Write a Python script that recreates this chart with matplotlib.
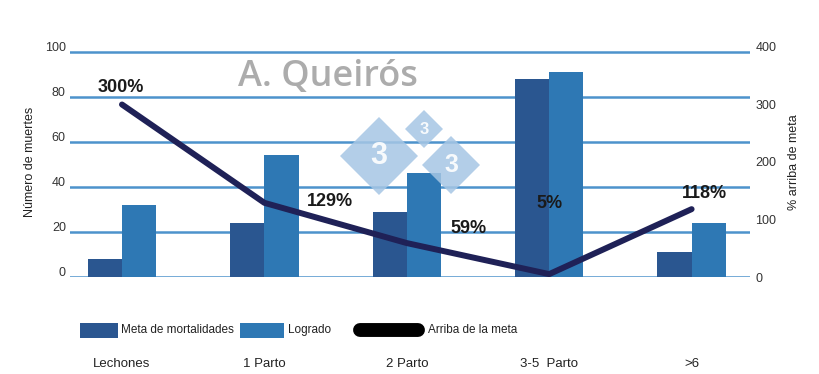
import matplotlib
matplotlib.use("Agg")
import matplotlib.pyplot as plt
import matplotlib.transforms as mtransforms
from matplotlib.patches import Polygon, Rectangle
from matplotlib.lines import Line2D
from matplotlib import font_manager

categories = ["Lechones", "1 Parto", "2 Parto", "3-5  Parto", ">6"]
meta = [8, 24, 29, 88, 11]
logrado = [32, 54, 46, 91, 24]
arriba = [300, 129, 59, 5, 118]
arriba_labels = ["300%", "129%", "59%", "5%", "118%"]
left_ticks = [0, 20, 40, 60, 80, 100]
right_ticks = [0, 100, 200, 300, 400]
legend_labels = ["Meta de mortalidades", "Logrado", "Arriba de la meta"]

names = {f.name for f in font_manager.fontManager.ttflist}
narrow = "Liberation Sans Narrow" if "Liberation Sans Narrow" in names else "Liberation Sans"
plt.rcParams["font.family"] = ["Liberation Sans", "DejaVu Sans"]

W, H = 820, 374
fig = plt.figure(figsize=(W / 100, H / 100), dpi=100)
ax = fig.add_axes([70 / W, 1 - 277 / H, 680 / W, 230 / H])
ax2 = ax.twinx()

dark = "#2a5690"
light = "#2e78b4"
navy = "#1f2157"
grid_c = "#4d93cc"

x = list(range(len(categories)))
bw = 0.24
ax.bar([i - bw / 2 for i in x], meta, width=bw, color=dark, zorder=3)
ax.bar([i + bw / 2 for i in x], logrado, width=bw, color=light, zorder=3)
ax.set_ylim(0, 102.2)
ax.set_xlim(-0.365, 4.41)
ax.set_yticks(left_ticks)
ax.yaxis.grid(True, color=grid_c, lw=1.8, zorder=0)
ax.set_axisbelow(True)
for s in ax.spines.values():
    s.set_visible(False)
for s in ax2.spines.values():
    s.set_visible(False)
ax.tick_params(axis="y", length=0, pad=3, labelsize=9, labelcolor="#333333")
ax.tick_params(axis="x", length=0, pad=58)
ax.set_xticks(x)
ax.set_xticklabels(categories, fontsize=9.5, family=[narrow, "DejaVu Sans"], color="#222222")
off = mtransforms.ScaledTranslation(0, 4 / 72, fig.dpi_scale_trans)
for lbl in ax.get_yticklabels():
    lbl.set_transform(lbl.get_transform() + off)
ax.set_ylabel("Número de muertes", fontsize=9, color="#222222", labelpad=6)

ax2.plot(x, arriba, color=navy, lw=4.3, solid_capstyle="round", solid_joinstyle="round", zorder=5)
ax2.set_ylim(0, 400)
ax2.set_yticks(right_ticks)
ax2.tick_params(axis="y", length=0, pad=4, labelsize=9, labelcolor="#333333")
ax2.set_ylabel("% arriba de meta", fontsize=9, color="#222222", labelpad=8)

label_pos = [(-0.01, 329), (1.46, 132), (2.43, 85), (3.0, 127), (4.09, 146)]
for (lx, ly), t in zip(label_pos, arriba_labels):
    ax2.text(lx, ly, t, ha="center", va="center", fontsize=13, fontweight="bold", color="#1a1a1a", zorder=6)

# watermark
fig.text(328 / W, 1 - 77 / H, "A. Queirós", ha="center", va="center", fontsize=26,
         family=["Open Sans", "DejaVu Sans"], fontweight="semibold", color="#a3a3a3", alpha=0.9)
for cx, cy, r, fs in [(379, 156, 39, 22), (424, 129, 19, 12), (451, 165, 29, 18)]:
    py = H - cy
    poly = Polygon([(cx - r, py), (cx, py + r), (cx + r, py), (cx, py - r)], closed=True,
                   facecolor="#a6c6e4", edgecolor="none", alpha=0.85,
                   transform=mtransforms.IdentityTransform(), zorder=4)
    fig.patches.append(poly)
    fig.text(cx / W, py / H, "3", ha="center", va="center", fontsize=fs, fontweight="bold",
             color="white", alpha=0.9, zorder=5)

# manual legend
ly = 1 - 330 / H
lh = 15 / H
fig.patches.append(Rectangle((80 / W, ly - lh / 2), 38 / W, lh, transform=fig.transFigure,
                             facecolor=dark, edgecolor="none"))
fig.text(121 / W, ly, legend_labels[0], ha="left", va="center", fontsize=8.5,
         family=[narrow, "DejaVu Sans"], color="#222222")
fig.patches.append(Rectangle((240 / W, ly - lh / 2), 44 / W, lh, transform=fig.transFigure,
                             facecolor=light, edgecolor="none"))
fig.text(288 / W, ly, legend_labels[1], ha="left", va="center", fontsize=8.5,
         family=[narrow, "DejaVu Sans"], color="#222222")
fig.lines.append(Line2D([360 / W, 418 / W], [ly, ly], transform=fig.transFigure, color="black",
                        lw=10, solid_capstyle="round"))
fig.text(428 / W, ly, legend_labels[2], ha="left", va="center", fontsize=8.5,
         family=[narrow, "DejaVu Sans"], color="#222222")

fig.savefig("out.png", dpi=100)
